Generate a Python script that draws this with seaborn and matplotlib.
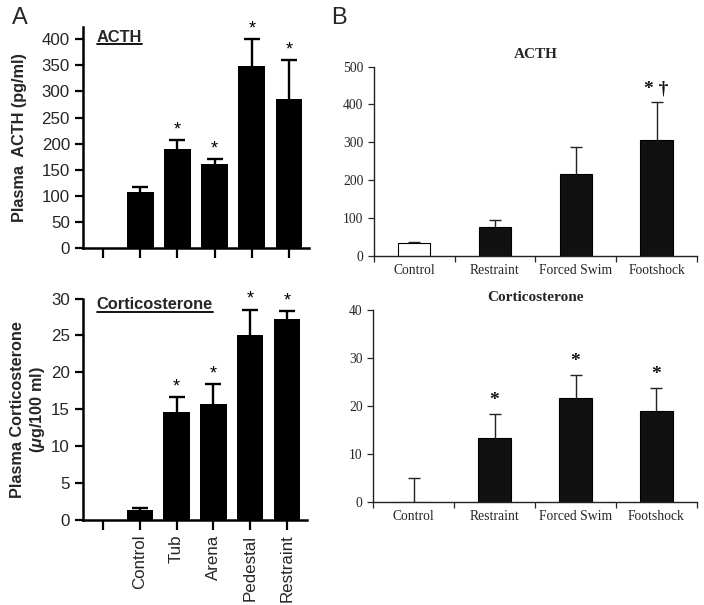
import numpy as np
import pandas as pd
import matplotlib
matplotlib.use('Agg')
import matplotlib.pyplot as plt
import seaborn as sns
from matplotlib.lines import Line2D

# Panel A data
a_order = [" ", "Control", "Tub", "Arena", "Pedestal", "Restraint"]
a_groups = ["Control", "Tub", "Arena", "Pedestal", "Restraint"]
a_acth = [108, 189, 161, 349, 285]
a_acth_err = [9, 18, 10, 51, 75]
a_cort = [1.35, 14.6, 15.7, 25.1, 27.2]
a_cort_err = [0.3, 2.0, 2.7, 3.4, 1.1]
a_acth_sig = ["", "*", "*", "*", "*"]
a_cort_sig = ["", "*", "*", "*", "*"]

# Panel B data
b_groups = ["Control", "Restraint", "Forced Swim", "Footshock"]
b_acth = [35, 77, 217, 307]
b_acth_err = [3, 19, 71, 99]
b_cort = [0, 13.3, 21.6, 19.0]
b_cort_err = [5.0, 5.0, 4.9, 4.8]
b_acth_sig = ["", "", "", "* \u2020"]
b_cort_sig = ["", "*", "*", "*"]

sns.set_style("ticks")
plt.rcParams['font.family'] = ['Liberation Sans', 'DejaVu Sans']
plt.rcParams['mathtext.fontset'] = 'custom'
plt.rcParams['mathtext.it'] = 'Liberation Sans:bold:italic'
plt.rcParams['mathtext.rm'] = 'Liberation Sans:bold'

fig = plt.figure(figsize=(7.04, 6.05), dpi=100)
ax_a1 = fig.add_axes([0.118, 0.590, 0.321, 0.365])
ax_a2 = fig.add_axes([0.118, 0.1405, 0.318, 0.366])
ax_b1 = fig.add_axes([0.531, 0.577, 0.459, 0.313])
ax_b2 = fig.add_axes([0.530, 0.170, 0.460, 0.318])


def upper_errorbars(ax, xpos, vals, errs, color, lw, cap):
    eb = ax.errorbar(xpos, vals, yerr=[np.zeros(len(vals)), errs], fmt='none',
                     ecolor=color, elinewidth=lw, capsize=cap, capthick=lw)
    # one-sided bars: hide the lower caps
    eb[1][0].set_visible(False)


def panel_a(ax, vals, errs, sig, ymax, ticks, ylabel, title, show_labels):
    df = pd.DataFrame({"group": a_groups, "value": vals})
    sns.barplot(data=df, x="group", y="value", order=a_order, color="black",
                width=0.72, errorbar=None, saturation=1, linewidth=0, ax=ax)
    xpos = [a_order.index(g) for g in a_groups]
    upper_errorbars(ax, xpos, vals, errs, 'black', 1.7, 6)
    for x, v, e, s in zip(xpos, vals, errs, sig):
        if s:
            ax.text(x, v + e + ymax * 0.008, s, ha='center', va='bottom',
                    fontsize=13, color='black')
    ax.set_xlim(-0.54, 5.54)
    ax.set_ylim(0, ymax)
    ax.set_yticks(ticks)
    ax.set_xlabel("")
    ax.set_ylabel(ylabel, fontsize=11.7, fontweight='bold')
    ax.set_xticks(range(len(a_order)))
    if show_labels:
        ax.set_xticklabels(a_order, rotation=90, fontsize=12)
    else:
        ax.set_xticklabels([])
    ax.tick_params(axis='both', width=1.6, length=6, labelsize=12.2, color='black')
    ax.tick_params(axis='x', length=7)
    for sp in ['left', 'bottom']:
        ax.spines[sp].set_linewidth(1.8)
        ax.spines[sp].set_color('black')
    sns.despine(ax=ax)
    ax.text(0.06, 0.955, title, transform=ax.transAxes, ha='left', va='center',
            fontsize=11.8, fontweight='bold')


def panel_b(ax, vals, errs, sig, ymax, ticks, title):
    df = pd.DataFrame({"group": b_groups, "value": vals})
    pal = {g: ("white" if g == "Control" else "#111111") for g in b_groups}
    sns.barplot(data=df, x="group", y="value", hue="group", order=b_groups,
                palette=pal, width=0.4, errorbar=None, saturation=1,
                edgecolor='black', linewidth=0.8, legend=False, ax=ax)
    xpos = list(range(len(b_groups)))
    upper_errorbars(ax, xpos, vals, errs, '#222222', 1.0, 4.5)
    for x, v, e, s in zip(xpos, vals, errs, sig):
        if s:
            ax.text(x, v + e + ymax * 0.025, s, ha='center', va='bottom',
                    fontsize=14, fontweight='bold', family='Liberation Serif',
                    color='#111111')
    ax.set_xlim(-0.5, 3.5)
    ax.set_ylim(0, ymax)
    ax.set_yticks(ticks)
    ax.set_xticks(xpos)
    ax.set_xticklabels(b_groups, fontsize=9.8, family='Liberation Serif')
    ax.set_xticks(np.arange(-0.5, 3.6, 1.0), minor=True)
    ax.tick_params(axis='x', which='major', length=0, pad=6)
    ax.tick_params(axis='x', which='minor', length=4, width=0.9, direction='out')
    ax.tick_params(axis='y', length=4, width=0.9, labelsize=9.8)
    for lab in ax.get_yticklabels():
        lab.set_family('Liberation Serif')
    ax.set_xlabel("")
    ax.set_ylabel("")
    for sp in ['left', 'bottom']:
        ax.spines[sp].set_linewidth(1.0)
        ax.spines[sp].set_color('#222222')
    sns.despine(ax=ax)
    ax.set_title(title, fontsize=11, fontweight='bold', family='Liberation Serif',
                 pad=6)


panel_a(ax_a1, a_acth, a_acth_err, a_acth_sig, 423, range(0, 401, 50),
        "Plasma  ACTH (pg/ml)", "ACTH", False)
panel_a(ax_a2, a_cort, a_cort_err, a_cort_sig, 30, range(0, 31, 5),
        "Plasma Corticosterone\n($\\mu$g/100 ml)", "Corticosterone", True)
ax_a2.texts[-1].set_y(0.972)
ax_a1.yaxis.set_label_coords(-0.25, 0.5)
ax_a2.yaxis.set_label_coords(-0.162, 0.5)

panel_b(ax_b1, b_acth, b_acth_err, b_acth_sig, 500, range(0, 501, 100), "ACTH")
panel_b(ax_b2, b_cort, b_cort_err, b_cort_sig, 40, range(0, 41, 10), "Corticosterone")

fig.text(0.017, 0.97, "A", fontsize=17, ha='left', va='center')
fig.text(0.471, 0.97, "B", fontsize=17, ha='left', va='center')

# underline the in-plot titles of panel A
fig.canvas.draw()
inv = fig.transFigure.inverted()
for ax in [ax_a1, ax_a2]:
    t = ax.texts[-1]
    bb = t.get_window_extent().transformed(inv)
    fig.add_artist(Line2D([bb.x0, bb.x1], [bb.y0 + 0.001, bb.y0 + 0.001],
                          color='black', lw=1.3, transform=fig.transFigure))

fig.savefig("out.png", dpi=100)
